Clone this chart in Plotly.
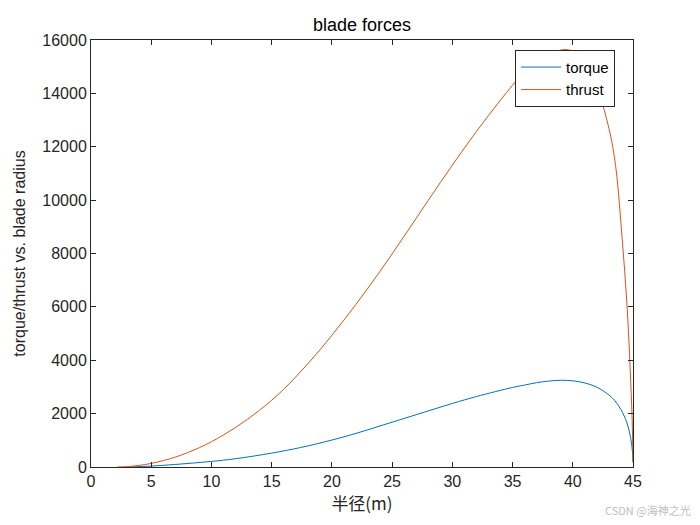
import plotly.graph_objects as go

# Data
thrust_r = [2.2, 3, 4, 5, 6, 7, 8, 9, 10, 11, 12, 13, 14, 15, 16, 17, 18, 19, 20, 21, 22,
            23, 24, 25, 26, 27, 28, 29, 30, 31, 32, 33, 34, 35, 36, 37, 38, 39, 39.5, 40,
            41, 42, 42.3, 42.8, 43.2, 43.6, 44.1, 44.5, 44.77, 44.93, 45]
thrust_v = [0, 15, 60, 135, 240, 370, 535, 725, 945, 1200, 1480, 1790, 2130, 2500, 2915,
            3375, 3865, 4385, 4935, 5505, 6095, 6705, 7335, 7985, 8650, 9320, 9990, 10655,
            11310, 11950, 12570, 13170, 13750, 14305, 14800, 15200, 15470, 15620, 15640,
            15570, 15170, 14280, 13870, 13050, 12280, 11130, 8560, 6080, 3630, 1760, 150]

torque_r = [3.3, 5, 7, 10, 12, 15, 17.4, 20, 22, 25, 27, 30, 32, 35, 36, 37, 38, 39, 40,
            41, 42, 43, 43.5, 44, 44.5, 44.8, 44.95, 45]
torque_v = [0, 35, 95, 210, 310, 520, 730, 1010, 1260, 1680, 1960, 2380, 2640, 2980, 3070,
            3160, 3220, 3250, 3230, 3150, 2990, 2700, 2480, 2150, 1650, 1100, 600, 200]

x_ticks = [0, 5, 10, 15, 20, 25, 30, 35, 40, 45]
y_ticks = [0, 2000, 4000, 6000, 8000, 10000, 12000, 14000, 16000]

FONT = "Liberation Sans, Arial, Helvetica"
INK = "#262626"

fig = go.Figure()
fig.add_trace(go.Scatter(x=torque_r, y=torque_v, mode="lines", name="torque",
                         line=dict(color="#0072BD", width=1, shape="spline", smoothing=1.0)))
fig.add_trace(go.Scatter(x=thrust_r, y=thrust_v, mode="lines", name="thrust",
                         line=dict(color="#D95319", width=1, shape="spline", smoothing=1.0)))

axis_common = dict(showline=True, linecolor=INK, linewidth=1, mirror="ticks",
                   ticks="inside", ticklen=5, tickcolor=INK, showgrid=False,
                   zeroline=False, tickfont=dict(family=FONT, size=16, color=INK))

fig.update_xaxes(range=[0, 45], tickvals=x_ticks, **axis_common,
                 title=dict(text="半径(m)", font=dict(family="Noto Sans CJK SC", size=17, color=INK),
                            standoff=6))
fig.update_yaxes(range=[0, 16000], tickvals=y_ticks, tickformat="d", **axis_common,
                 title=dict(text="torque/thrust vs. blade radius",
                            font=dict(family=FONT, size=16, color=INK),
                            standoff=12))

fig.update_layout(
    width=700, height=525,
    margin=dict(l=83, r=75, t=32, b=66),
    paper_bgcolor="white", plot_bgcolor="white",
    title=dict(text="blade forces", x=0.5, xref="paper", xanchor="center",
               y=0.968, yanchor="middle",
               font=dict(family=FONT, size=18, color="black")),
    showlegend=True,
    legend=dict(x=0.967, y=0.977, xanchor="right", yanchor="top",
                bgcolor="white", bordercolor=INK, borderwidth=1,
                font=dict(family=FONT, size=15, color="black"),
                itemwidth=40, tracegroupgap=0),
    annotations=[dict(text="CSDN @海神之光", xref="paper", yref="paper", x=1.1107, y=-0.1007,
                      xanchor="right", yanchor="middle", showarrow=False,
                      font=dict(family="Noto Sans CJK SC", size=11, color="#c0c0c0"))],
)

fig.write_html("out.html")
